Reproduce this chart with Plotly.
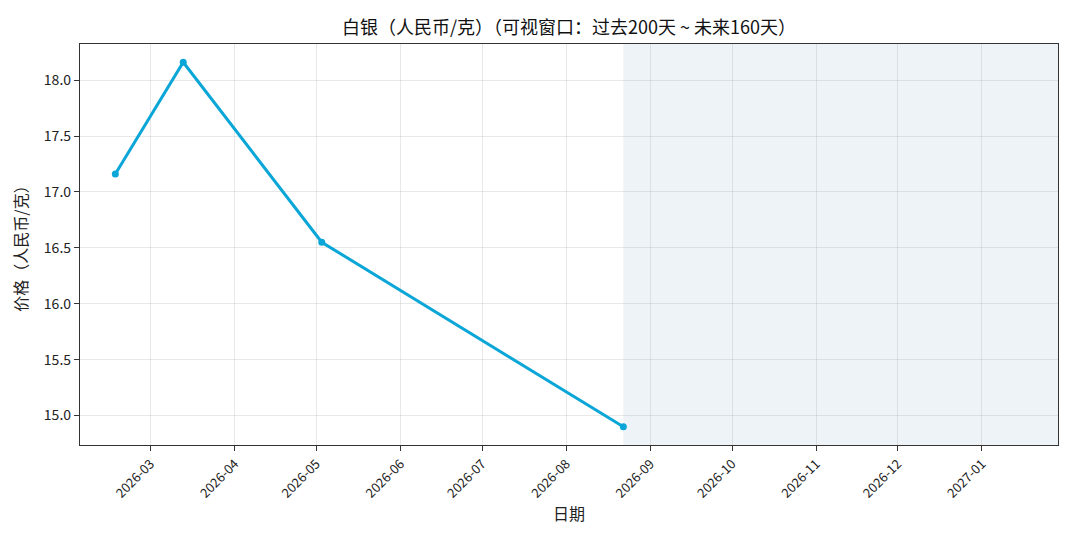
import pandas as pd
import plotly.graph_objects as go

# silver price points (RMB per gram)
dates = ['2026-02-16', '2026-03-13', '2026-05-03', '2026-08-22']
prices = [17.16, 18.16, 16.55, 14.90]

today = '2026-08-22'
pastDays = 200
futureDays = 160

start = pd.Timestamp(today) - pd.Timedelta(days=pastDays)
end = pd.Timestamp(today) + pd.Timedelta(days=futureDays)

font = 'Noto Sans CJK SC, SimHei, sans-serif'

fig = go.Figure()
fig.add_trace(go.Scatter(x=dates, y=prices, mode='lines+markers',
                         line=dict(color='#0aa6d8', width=3),
                         marker=dict(color='#0aa6d8', size=7),
                         showlegend=False))

# future window shading
fig.add_vrect(x0=pd.Timestamp(today), x1=end, fillcolor='rgb(237,243,247)',
              opacity=1, line_width=0, layer='below')

fig.update_layout(
    width=1080, height=540,
    margin=dict(l=72, r=30, t=36, b=103),
    paper_bgcolor='white', plot_bgcolor='white',
    font=dict(family=font, size=13, color='#222'),
    title=dict(text='白银（人民币/克）（可视窗口：过去200天 ~ 未来160天）',
               x=0.5, xanchor='center', xref='paper', y=0.963, yanchor='middle',
               font=dict(size=18, color='#111')),
)

fig.update_xaxes(range=[start, end], type='date', dtick='M1', tick0='2026-01-01',
                 tickformat='%Y-%m', tickangle=-45, ticks='outside', ticklen=5,
                 tickcolor='#333', showline=True, linecolor='#333', linewidth=1.3,
                 mirror=True, showgrid=True, gridcolor='rgba(180,180,180,0.3)',
                 tickfont=dict(size=13), zeroline=False, automargin=False,
                 title=dict(text='日期', font=dict(size=16), standoff=6))
fig.update_yaxes(range=[14.737, 18.323], dtick=0.5, tickformat='.1f',
                 ticks='outside', ticklen=5, tickcolor='#333', showline=True,
                 linecolor='#333', linewidth=1.3, mirror=True, showgrid=True,
                 gridcolor='rgba(180,180,180,0.3)', zeroline=False,
                 tickfont=dict(size=14), automargin=False,
                 title=dict(text='价格（人民币/克）', font=dict(size=16), standoff=14))

fig.write_html('out.html')
